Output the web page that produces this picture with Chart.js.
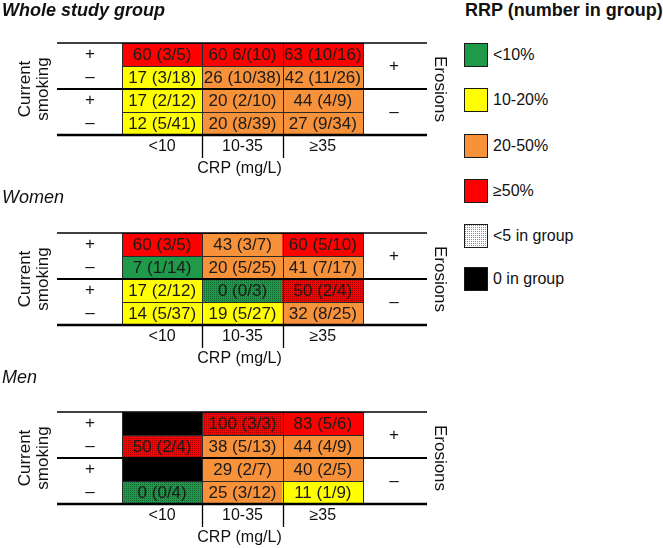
<!DOCTYPE html>
<html>
<head>
<meta charset="utf-8">
<script src="https://cdn.jsdelivr.net/npm/chart.js@4/dist/chart.umd.min.js"></script>
<style>
  html,body{margin:0;padding:0;background:#fff;}
  body{width:663px;height:548px;position:relative;overflow:hidden;font-family:"Liberation Sans",Arial,Helvetica,sans-serif;color:#111;}
  .panel{position:absolute;left:0;}
  .legtitle{position:absolute;left:465px;top:0px;font-weight:bold;font-size:18px;white-space:nowrap;}
  .sw{position:absolute;left:464px;width:22px;height:22px;border:1px solid #1a1a1a;}
  .lab{position:absolute;left:493px;font-size:16px;white-space:nowrap;line-height:24px;}
</style>
</head>
<body>
<canvas class="panel" id="c0" width="460" height="190" style="top:0px"></canvas>
<canvas class="panel" id="c1" width="460" height="190" style="top:180px"></canvas>
<canvas class="panel" id="c2" width="460" height="188" style="top:360px"></canvas>
<div id="legend"></div>
<script>
// ---------------- data ----------------
const crpCategories = ['<10', '10-35', '\u226535'];
const smokingSigns = ['+', '\u2013', '+', '\u2013'];
const erosionSigns = ['+', '\u2013'];
const panelTitles = ['Whole study group', 'Women', 'Men'];

// rows: erosions+/smoking+, erosions+/smoking-, erosions-/smoking+, erosions-/smoking-
const wholePct = [[60, 60, 63], [17, 26, 42], [17, 20, 44], [12, 20, 27]];
const wholeN   = [[5, 10, 16], [18, 38, 26], [12, 10, 9], [41, 39, 34]];
const wholeText = [['60 (3/5)', '60 6/(10)', '63 (10/16)'],
                   ['17 (3/18)', '26 (10/38)', '42 (11/26)'],
                   ['17 (2/12)', '20 (2/10)', '44 (4/9)'],
                   ['12 (5/41)', '20 (8/39)', '27 (9/34)']];

const womenPct = [[60, 43, 60], [7, 20, 41], [17, 0, 50], [14, 19, 32]];
const womenN   = [[5, 7, 10], [14, 25, 17], [12, 3, 4], [37, 27, 25]];
const womenText = [['60 (3/5)', '43 (3/7)', '60 (5/10)'],
                   ['7 (1/14)', '20 (5/25)', '41 (7/17)'],
                   ['17 (2/12)', '0 (0/3)', '50 (2/4)'],
                   ['14 (5/37)', '19 (5/27)', '32 (8/25)']];

const menPct = [[null, 100, 83], [50, 38, 44], [null, 29, 40], [0, 25, 11]];
const menN   = [[0, 3, 6], [4, 13, 9], [0, 7, 5], [4, 12, 9]];
const menText = [['', '100 (3/3)', '83 (5/6)'],
                 ['50 (2/4)', '38 (5/13)', '44 (4/9)'],
                 ['', '29 (2/7)', '40 (2/5)'],
                 ['0 (0/4)', '25 (3/12)', '11 (1/9)']];

const legendLabels = ['<10%', '10-20%', '20-50%', '\u226550%', '<5 in group', '0 in group'];
const legendTitle = 'RRP (number in group)';

// ---------------- styles ----------------
const FONT = '"Liberation Sans", Arial, Helvetica, sans-serif';
const GREEN = '#1f9a4b', YELLOW = '#ffff00', ORANGE = '#f7923b', RED = '#ff0000';

function makePattern(base, dot) {
  const c = document.createElement('canvas');
  c.width = 2; c.height = 2;
  const g = c.getContext('2d');
  g.fillStyle = base; g.fillRect(0, 0, 2, 2);
  g.fillStyle = dot; g.fillRect(0, 0, 1, 1);
  return c;
}
const patCache = {};
function patternFor(ctx, base) {
  if (!patCache[base]) patCache[base] = ctx.createPattern(makePattern(base, 'rgba(0,0,0,0.35)'), 'repeat');
  return patCache[base];
}
function cellColor(ctx, pct, n) {
  if (n === 0) return '#000000';
  const base = pct < 10 ? GREEN : pct < 20 ? YELLOW : pct < 50 ? ORANGE : RED;
  return n < 5 ? patternFor(ctx, base) : base;
}

const panelLayout = [
  {canvas: 'c0', top: 43, titleY: 16, bold: true},
  {canvas: 'c1', top: 53, titleY: 23, bold: false},
  {canvas: 'c2', top: 52, titleY: 23, bold: false}
];
const panelData = [
  {pct: wholePct, n: wholeN, text: wholeText},
  {pct: womenPct, n: womenN, text: womenText},
  {pct: menPct, n: menN, text: menText}
];

const panelPlugin = {
  id: 'panelDecor',
  afterDraw(chart, args, opts) {
    const ctx = chart.ctx;
    const xs = chart.scales.x, ys = chart.scales.y;
    const ca = chart.chartArea;
    const rows = opts.text.length;
    ctx.save();
    // title
    ctx.fillStyle = '#111';
    ctx.textBaseline = 'alphabetic';
    ctx.textAlign = 'left';
    ctx.font = (opts.bold ? 'bold italic ' : 'italic ') + '18px ' + FONT;
    ctx.fillText(opts.title, 2, opts.titleY);

    // inner cell grid
    ctx.strokeStyle = '#2a2a2a';
    ctx.lineWidth = 1;
    for (let r = 0; r <= rows; r++) {
      const y = Math.round(ys.getPixelForValue(r)) + 0.5;
      ctx.beginPath(); ctx.moveTo(ca.left, y); ctx.lineTo(ca.right, y); ctx.stroke();
    }
    const edges = [];
    for (let c = 0; c <= crpCategories.length; c++) {
      let xp;
      if (c === 0) xp = ca.left;
      else if (c === crpCategories.length) xp = ca.right;
      else xp = (xs.getPixelForValue(c - 1) + xs.getPixelForValue(c)) / 2;
      edges.push(xp);
      const xx = Math.round(xp) + 0.5;
      ctx.beginPath(); ctx.moveTo(xx, ca.top); ctx.lineTo(xx, ca.bottom); ctx.stroke();
    }

    // cell text
    ctx.font = '17px ' + FONT;
    ctx.textAlign = 'center';
    ctx.textBaseline = 'middle';
    ctx.fillStyle = '#1a1a1a';
    for (let r = 0; r < rows; r++) {
      for (let c = 0; c < crpCategories.length; c++) {
        const t = opts.text[r][c];
        if (!t) continue;
        ctx.fillText(t, xs.getPixelForValue(c), ys.getPixelForValue(r + 0.5) + 1);
      }
    }

    // long horizontal rules
    ctx.strokeStyle = '#000';
    const rules = [[0, 1.4], [rows / 2, 1.8], [rows, 2.4]];
    rules.forEach(([v, w]) => {
      ctx.lineWidth = w;
      const y = ys.getPixelForValue(v);
      ctx.beginPath(); ctx.moveTo(57, y); ctx.lineTo(427, y); ctx.stroke();
    });

    // column separators under table
    ctx.lineWidth = 1.3;
    for (let c = 1; c < crpCategories.length; c++) {
      const xx = Math.round(edges[c]) + 0.5;
      ctx.beginPath(); ctx.moveTo(xx, ca.bottom); ctx.lineTo(xx, ca.bottom + 23); ctx.stroke();
    }

    // smoking signs
    ctx.fillStyle = '#111';
    ctx.font = '17px ' + FONT;
    for (let r = 0; r < rows; r++) {
      ctx.fillText(smokingSigns[r], 90, ys.getPixelForValue(r + 0.5));
    }
    // erosion signs
    ctx.fillText(erosionSigns[0], 394, ys.getPixelForValue(1));
    ctx.fillText(erosionSigns[1], 394, ys.getPixelForValue(3));

    // x tick labels
    ctx.font = '16px ' + FONT;
    for (let c = 0; c < crpCategories.length; c++) {
      ctx.fillText(crpCategories[c], xs.getPixelForValue(c), ca.bottom + 12);
    }
    ctx.font = '16px ' + FONT;
    ctx.fillText('CRP (mg/L)', (ca.left + ca.right) / 2 - 3, ca.bottom + 34);

    // rotated labels
    const midY = ys.getPixelForValue(rows / 2);
    ctx.font = '17px ' + FONT;
    ctx.save();
    ctx.translate(25, midY); ctx.rotate(-Math.PI / 2);
    ctx.fillText('Current', 0, 0);
    ctx.restore();
    ctx.save();
    ctx.translate(43, midY); ctx.rotate(-Math.PI / 2);
    ctx.fillText('smoking', 0, 0);
    ctx.restore();
    ctx.save();
    ctx.translate(440, midY); ctx.rotate(Math.PI / 2);
    ctx.fillText('Erosions', 0, 0);
    ctx.restore();

    ctx.restore();
  }
};

panelLayout.forEach((lay, i) => {
  const canvas = document.getElementById(lay.canvas);
  const ctx = canvas.getContext('2d');
  const d = panelData[i];
  const datasets = d.text.map((row, r) => ({
    label: 'row' + r,
    data: crpCategories.map(() => 1),
    backgroundColor: crpCategories.map((_, c) => cellColor(ctx, d.pct[r][c], d.n[r][c])),
    borderWidth: 0,
    barPercentage: 1,
    categoryPercentage: 1,
    stack: 's'
  }));
  const H = canvas.height;
  new Chart(ctx, {
    type: 'bar',
    data: {labels: crpCategories, datasets},
    options: {
      responsive: false,
      devicePixelRatio: 1,
      animation: false,
      layout: {padding: {left: 122, right: 460 - 363, top: lay.top, bottom: H - lay.top - 92}},
      scales: {
        x: {type: 'category', display: false, stacked: true},
        y: {type: 'linear', display: false, stacked: true, min: 0, max: 4, reverse: true}
      },
      plugins: {
        legend: {display: false},
        tooltip: {enabled: false},
        panelDecor: {title: panelTitles[i], titleY: lay.titleY, bold: lay.bold, text: d.text}
      }
    },
    plugins: [panelPlugin]
  });
});

// ---------------- legend ----------------
(function () {
  const leg = document.getElementById('legend');
  const t = document.createElement('div');
  t.className = 'legtitle'; t.textContent = legendTitle;
  leg.appendChild(t);
  const tops = [43, 88, 134, 179, 224, 267];
  const dotted = makePattern('#ffffff', 'rgba(0,0,0,0.45)').toDataURL();
  const fills = [GREEN, YELLOW, ORANGE, RED, null, '#000000'];
  legendLabels.forEach((lab, i) => {
    const s = document.createElement('div');
    s.className = 'sw';
    s.style.top = tops[i] + 'px';
    if (fills[i]) s.style.background = fills[i];
    else { s.style.backgroundColor = '#fff'; s.style.backgroundImage = 'url(' + dotted + ')'; s.style.backgroundRepeat = 'repeat'; }
    leg.appendChild(s);
    const l = document.createElement('div');
    l.className = 'lab';
    l.style.top = tops[i] + 'px';
    l.textContent = lab;
    leg.appendChild(l);
  });
})();
</script>
</body>
</html>
